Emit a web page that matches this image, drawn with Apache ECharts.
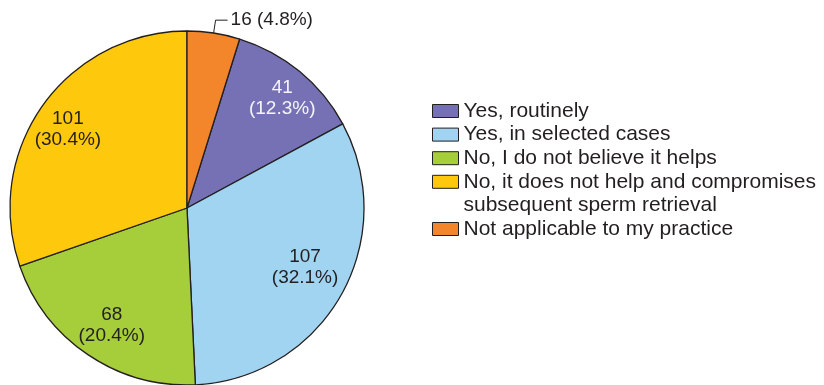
<!DOCTYPE html>
<html>
<head>
<meta charset="utf-8">
<script src="https://cdn.jsdelivr.net/npm/echarts@6/dist/echarts.min.js"></script>
<style>
html,body{margin:0;padding:0;background:#fff;}
#chart{width:824px;height:385px;}
</style>
</head>
<body>
<div id="chart"></div>
<script>
// ---- data ----
const categories = [
  'Yes, routinely',
  'Yes, in selected cases',
  'No, I do not believe it helps',
  'No, it does not help and compromises\nsubsequent sperm retrieval',
  'Not applicable to my practice'
];
const counts = [41, 107, 68, 101, 16];
const percents = ['12.3', '32.1', '20.4', '30.4', '4.8'];
const colors = ['#7671b4', '#a0d4f1', '#a6cd3a', '#fec80d', '#f3852a'];

// ---- layout / styling ----
const FONT = '"Liberation Sans", Arial, Helvetica, sans-serif';
const INK = '#231f20';
const CX = 187, CY = 208, R = 177;
// inside-label placement: distance from centre and small rotation (deg, clockwise) from the slice mid-angle
const LABEL_R = [145, 132, 139, 143, 0];
const LABEL_ROT = [1.6, -2.9, -1.3, -1.8, 0];
const total = counts.reduce((a, b) => a + b, 0);
// the last category (orange) sits just right of 12 o'clock, list starts after it
const startAngle = 90 - 360 * counts[counts.length - 1] / total;

const pieData = categories.map((name, i) => {
  const item = { name: name, value: counts[i], itemStyle: { color: colors[i] } };
  if (i === 0) item.label = { color: '#f4f4f8' };
  if (i === categories.length - 1) {
    item.label = { position: 'outside', distanceToLabelLine: 3 };
    item.labelLine = { show: true, length: 13, length2: 12, lineStyle: { color: INK, width: 1 } };
  }
  return item;
});

// legend rows (the 4th entry occupies two text lines)
const ROW_H = 23.6;
const FIRST_ROW_CENTER = 111;
const ICON_H = 13;
const rowIndex = [0, 1, 2, 3, 5];
const legends = categories.map((name, i) => {
  const twoLine = name.indexOf('\n') >= 0;
  const center = FIRST_ROW_CENTER + rowIndex[i] * ROW_H;
  const lines = twoLine ? 3 : 1; // two-line entry gets an empty leading line so line 1 sits beside the icon
  const top = center - (lines * ROW_H) / 2;
  return {
    orient: 'vertical',
    left: 432,
    top: top,
    padding: 0,
    itemWidth: 26,
    itemHeight: ICON_H,
    icon: 'rect',
    data: [name],
    formatter: twoLine ? function (n) { return '\n' + n; } : '{name}',
    itemStyle: { borderColor: INK, borderWidth: 1 },
    textStyle: { fontFamily: FONT, fontSize: 21, color: INK, lineHeight: ROW_H }
  };
});

const chart = echarts.init(document.getElementById('chart'), null, { renderer: 'canvas' });
chart.setOption({
  animation: false,
  backgroundColor: '#ffffff',
  legend: legends,
  series: [{
    type: 'pie',
    center: [CX, CY],
    radius: R,
    startAngle: startAngle,
    clockwise: true,
    avoidLabelOverlap: false,
    data: pieData,
    itemStyle: { borderColor: INK, borderWidth: 1.3 },
    emphasis: { disabled: true },
    label: {
      show: true,
      position: 'inside',
      fontFamily: FONT,
      fontSize: 19,
      lineHeight: 21,
      color: INK,
      formatter: function (p) {
        const i = p.dataIndex;
        if (i === categories.length - 1) return counts[i] + ' (' + percents[i] + '%)';
        return counts[i] + '\n(' + percents[i] + '%)';
      }
    },
    labelLine: { show: false },
    labelLayout: function (p) {
      const i = p.dataIndex;
      if (i === categories.length - 1) return {};
      const lx = p.labelRect.x + p.labelRect.width / 2;
      const ly = p.labelRect.y + p.labelRect.height / 2;
      // clockwise-from-top angle of the default (mid-angle) label position
      const a = Math.atan2(lx - CX, CY - ly) + LABEL_ROT[i] * Math.PI / 180;
      return { x: CX + Math.sin(a) * LABEL_R[i], y: CY - Math.cos(a) * LABEL_R[i] };
    }
  }]
});
</script>
</body>
</html>
